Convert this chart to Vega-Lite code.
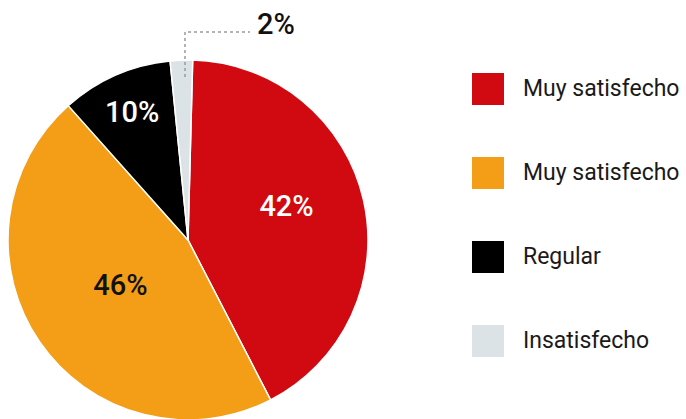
{
  "$schema": "https://vega.github.io/schema/vega-lite/v6.json",
  "width": 686,
  "height": 419,
  "autosize": {"type": "none"},
  "padding": 0,
  "background": "white",
  "config": {"view": {"stroke": null}},
  "datasets": {
    "respuestas": [
      {"clave": "1 Muy satisfecho", "valor": 0.42},
      {"clave": "2 Muy satisfecho", "valor": 0.46},
      {"clave": "3 Regular", "valor": 0.10},
      {"clave": "4 Insatisfecho", "valor": 0.02}
    ],
    "guia": [
      {"gx": -0.0167, "gy": 0.9056, "paso": 1},
      {"gx": -0.0167, "gy": 1.1556, "paso": 2},
      {"gx": 0.3444, "gy": 1.1556, "paso": 3}
    ]
  },
  "layer": [
    {
      "data": {"name": "respuestas"},
      "mark": {"type": "arc", "radius": 180, "stroke": "white", "strokeWidth": 1.5},
      "encoding": {
        "x": {"datum": 0, "type": "quantitative", "scale": {"domain": [-1.04444, 2.76667], "nice": false, "zero": false}, "axis": null},
        "y": {"datum": 0, "type": "quantitative", "scale": {"domain": [-0.99444, 1.33333], "nice": false, "zero": false}, "axis": null},
        "theta": {"field": "valor", "type": "quantitative", "stack": true, "scale": {"range": [0.026, 6.3092]}},
        "order": {"field": "clave", "type": "ordinal"},
        "color": {
          "field": "clave",
          "type": "nominal",
          "scale": {
            "domain": ["1 Muy satisfecho", "2 Muy satisfecho", "3 Regular", "4 Insatisfecho"],
            "range": ["#D10A11", "#F39E16", "#000000", "#DCE3E6"]
          },
          "legend": {
            "orient": "none",
            "legendX": 472,
            "legendY": 73,
            "title": null,
            "symbolType": "square",
            "symbolSize": 1024,
            "symbolStrokeWidth": 0,
            "rowPadding": 52,
            "labelOffset": 19,
            "labelFont": "Roboto",
            "labelFontSize": 23,
            "labelColor": "#1a1a1a",
            "labelLimit": 300,
            "labelExpr": "substring(datum.label, 2)"
          }
        }
      }
    },
    {
      "data": {"name": "guia"},
      "mark": {"type": "line", "color": "#9a9a9a", "strokeWidth": 1.5, "strokeDash": [3, 3]},
      "encoding": {
        "x": {"field": "gx", "type": "quantitative", "scale": {"domain": [-1.04444, 2.76667], "nice": false, "zero": false}, "axis": null},
        "y": {"field": "gy", "type": "quantitative", "scale": {"domain": [-0.99444, 1.33333], "nice": false, "zero": false}, "axis": null},
        "order": {"field": "paso", "type": "quantitative"}
      }
    },
    {
      "data": {"name": "respuestas"},
      "transform": [{"filter": "datum.clave !== '4 Insatisfecho'"}],
      "mark": {"type": "text", "radius": 104, "thetaOffset": -0.1, "font": "Roboto", "fontSize": 29, "fontWeight": 500, "color": "white"},
      "encoding": {
        "x": {"datum": 0, "type": "quantitative"},
        "y": {"datum": 0, "type": "quantitative"},
        "theta": {"field": "valor", "type": "quantitative", "stack": true},
        "order": {"field": "clave", "type": "ordinal"},
        "text": {"condition": {"test": "datum.clave === '1 Muy satisfecho'", "field": "valor", "type": "quantitative", "format": ".0%"}, "value": ""}
      }
    },
    {
      "data": {"name": "respuestas"},
      "transform": [{"filter": "datum.clave !== '4 Insatisfecho'"}],
      "mark": {"type": "text", "radius": 82, "font": "Roboto", "fontSize": 29, "fontWeight": 500, "color": "#111111"},
      "encoding": {
        "x": {"datum": 0, "type": "quantitative"},
        "y": {"datum": 0, "type": "quantitative"},
        "theta": {"field": "valor", "type": "quantitative", "stack": true},
        "order": {"field": "clave", "type": "ordinal"},
        "text": {"condition": {"test": "datum.clave === '2 Muy satisfecho'", "field": "valor", "type": "quantitative", "format": ".0%"}, "value": ""}
      }
    },
    {
      "data": {"name": "respuestas"},
      "transform": [{"filter": "datum.clave !== '4 Insatisfecho'"}],
      "mark": {"type": "text", "radius": 139, "font": "Roboto", "fontSize": 29, "fontWeight": 500, "color": "white"},
      "encoding": {
        "x": {"datum": 0, "type": "quantitative"},
        "y": {"datum": 0, "type": "quantitative"},
        "theta": {"field": "valor", "type": "quantitative", "stack": true},
        "order": {"field": "clave", "type": "ordinal"},
        "text": {"condition": {"test": "datum.clave === '3 Regular'", "field": "valor", "type": "quantitative", "format": ".0%"}, "value": ""}
      }
    },
    {
      "data": {"name": "respuestas"},
      "transform": [{"filter": "datum.clave === '4 Insatisfecho'"}],
      "mark": {"type": "text", "dx": 88, "dy": -215, "font": "Roboto", "fontSize": 29, "fontWeight": 500, "color": "#111111"},
      "encoding": {
        "x": {"datum": 0, "type": "quantitative"},
        "y": {"datum": 0, "type": "quantitative"},
        "text": {"field": "valor", "type": "quantitative", "format": ".0%"}
      }
    }
  ]
}
